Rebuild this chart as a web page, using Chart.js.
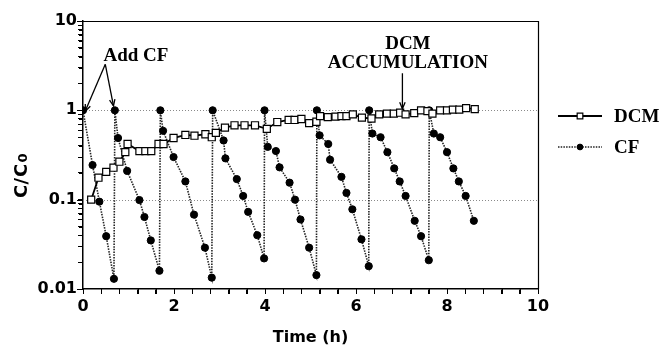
<!DOCTYPE html>
<html><head><meta charset="utf-8">
<script src="https://cdn.jsdelivr.net/npm/chart.js@4.4.0/dist/chart.umd.min.js"></script>
<style>html,body{margin:0;padding:0;background:#fff;}#wrap{width:661px;height:347px;}</style>
</head><body><div id="wrap"><canvas id="c" width="661" height="347"></canvas></div>
<script>
// ---- data ----
const dcmTime  = [0.18,0.34,0.51,0.67,0.80,0.93,0.98,1.24,1.37,1.50,1.66,1.77,1.99,2.25,2.45,2.69,2.83,2.92,3.12,3.33,3.55,3.78,4.04,4.27,4.52,4.65,4.80,4.97,5.13,5.21,5.38,5.55,5.68,5.79,5.93,6.13,6.34,6.51,6.68,6.83,6.97,7.09,7.28,7.43,7.57,7.68,7.85,8.00,8.13,8.27,8.42,8.61];
const dcmValue = [0.10,0.176,0.205,0.228,0.266,0.34,0.42,0.35,0.35,0.35,0.42,0.42,0.49,0.53,0.52,0.54,0.50,0.56,0.64,0.68,0.68,0.68,0.62,0.74,0.78,0.78,0.80,0.72,0.745,0.86,0.84,0.85,0.86,0.86,0.90,0.83,0.81,0.90,0.92,0.92,0.94,0.90,0.93,1.0,0.98,0.92,1.0,1.0,1.02,1.02,1.06,1.03];
const cfTime  = [0,0.21,0.36,0.51,0.68, 0.70,0.77,0.97,1.24,1.35,1.49,1.68, 1.70,1.76,1.99,2.25,2.44,2.68,2.83, 2.85,3.09,3.13,3.38,3.52,3.63,3.83,3.98, 3.99,4.06,4.24,4.32,4.54,4.66,4.78,4.97,5.13, 5.14,5.20,5.39,5.43,5.68,5.79,5.92,6.12,6.28, 6.29,6.36,6.54,6.69,6.84,6.96,7.09,7.29,7.43,7.60, 7.61,7.71,7.85,8.00,8.14,8.26,8.41,8.59];
const cfValue = [1,0.244,0.095,0.039,0.013, 1,0.49,0.21,0.099,0.064,0.035,0.016, 1,0.59,0.30,0.16,0.068,0.029,0.0134, 1,0.46,0.29,0.17,0.11,0.073,0.040,0.022, 1,0.39,0.35,0.23,0.155,0.10,0.06,0.029,0.0143, 1,0.525,0.42,0.28,0.18,0.119,0.078,0.036,0.018, 1,0.55,0.50,0.34,0.224,0.16,0.11,0.058,0.039,0.021, 1,0.55,0.50,0.34,0.224,0.16,0.11,0.058];
const xTickValues = [0,2,4,6,8,10];
const xTickLabels = ['0','2','4','6','8','10'];
const yTickValues = [0.01,0.1,1,10];
const yTickLabels = ['0.01','0.1','1','10'];
const gridValues = [0.1,1];
const seriesNames = ['DCM','CF'];

const AX_FONT = 'DejaVu Sans';
const SERIF = 'Liberation Serif';

function near(a,b){return Math.abs(a-b) < 1e-6*Math.max(1,Math.abs(b));}

const overlay = {
  id:'overlay',
  beforeDatasetsDraw(chart){
    const ctx=chart.ctx, a=chart.chartArea, y=chart.scales.y;
    ctx.save();
    ctx.strokeStyle='#8a8a8a'; ctx.lineWidth=1; ctx.setLineDash([1,2]);
    gridValues.forEach(v=>{const py=Math.round(y.getPixelForValue(v))+0.5;ctx.beginPath();ctx.moveTo(a.left,py);ctx.lineTo(a.right,py);ctx.stroke();});
    ctx.restore();
  },
  afterDraw(chart){
    const ctx=chart.ctx, a=chart.chartArea, xs=chart.scales.x, ys=chart.scales.y;
    ctx.save();
    ctx.setLineDash([]);
    // tick marks
    ctx.strokeStyle='#000'; ctx.lineWidth=1;
    xs.ticks.forEach(t=>{const x=Math.round(xs.getPixelForValue(t.value))+0.5;ctx.beginPath();ctx.moveTo(x,a.bottom);ctx.lineTo(x,a.bottom+5);ctx.stroke();});
    ys.ticks.forEach(t=>{const y=Math.round(ys.getPixelForValue(t.value))+0.5;const major=yTickValues.some(v=>near(v,t.value));ctx.beginPath();ctx.moveTo(a.left,y);ctx.lineTo(a.left-(major?6:4),y);ctx.stroke();});
    // frame top & right
    ctx.strokeStyle='#000'; ctx.lineWidth=1.2;
    ctx.beginPath(); ctx.moveTo(a.left,a.top+0.5); ctx.lineTo(a.right+0.5,a.top+0.5); ctx.lineTo(a.right+0.5,a.bottom); ctx.stroke();
    // y title C/C0
    ctx.save();
    ctx.translate(27,198); ctx.rotate(-Math.PI/2);
    ctx.fillStyle='#000'; ctx.textBaseline='alphabetic'; ctx.textAlign='left';
    ctx.font='bold 18px "'+AX_FONT+'"';
    ctx.fillText('C',0,0); ctx.fillText('/',13.5,0); ctx.fillText('C',21,0);
    ctx.font='bold 13px "'+AX_FONT+'"';
    ctx.fillText('0',35.5,0);
    ctx.restore();
    // annotations
    const px=(t)=>xs.getPixelForValue(t), py=(v)=>ys.getPixelForValue(v);
    function arrow(x1,y1,x2,y2){
      ctx.beginPath(); ctx.moveTo(x1,y1); ctx.lineTo(x2,y2); ctx.stroke();
      const ang=Math.atan2(y2-y1,x2-x1), L=7, w=0.4;
      ctx.beginPath();
      ctx.moveTo(x2-L*Math.cos(ang-w),y2-L*Math.sin(ang-w)); ctx.lineTo(x2,y2);
      ctx.lineTo(x2-L*Math.cos(ang+w),y2-L*Math.sin(ang+w)); ctx.stroke();
    }
    ctx.strokeStyle='#000'; ctx.lineWidth=1.3; ctx.fillStyle='#000';
    ctx.font='bold 19px "'+SERIF+'"'; ctx.textAlign='left'; ctx.textBaseline='alphabetic';
    ctx.fillText('Add CF', px(0.45), py(3.57));
    arrow(px(0.49),py(3.27),px(0.05),py(0.98));
    arrow(px(0.49),py(3.27),px(0.67),py(1.12));
    ctx.textAlign='center';
    ctx.fillText('DCM', px(7.14), py(4.86));
    ctx.fillText('ACCUMULATION', px(7.14), py(3.0));
    arrow(px(7.02),py(2.6),px(7.02),py(1.04));
    // legend
    const ds=chart.data.datasets;
    const items=[{y:116,d:ds[0]},{y:147,d:ds[1]}];
    items.forEach(it=>{
      ctx.save();
      ctx.strokeStyle=it.d.borderColor; ctx.lineWidth=it.d.borderWidth; ctx.setLineDash(it.d.borderDash||[]);
      ctx.beginPath(); ctx.moveTo(558,it.y); ctx.lineTo(602,it.y); ctx.stroke();
      ctx.setLineDash([]);
      ctx.fillStyle=it.d.pointBackgroundColor; ctx.strokeStyle=it.d.pointBorderColor;
      ctx.lineWidth=it.d.pointBorderWidth;
      Chart.helpers.drawPoint(ctx,{pointStyle:it.d.pointStyle,radius:it.d.pointRadius*0.8,borderWidth:it.d.pointBorderWidth},580,it.y);
      ctx.restore();
      ctx.fillStyle='#000'; ctx.textAlign='left'; ctx.textBaseline='alphabetic';
      ctx.font='bold 19px "'+SERIF+'"';
      ctx.fillText(it.d.label,614,it.y+6);
    });
    ctx.restore();
  }
};

new Chart(document.getElementById('c'),{
  type:'line',
  data:{datasets:[
    {label:seriesNames[0], data:dcmTime.map((t,i)=>({x:t,y:dcmValue[i]})), borderColor:'#000', borderWidth:1.8,
     pointStyle:'rect', pointRadius:5, pointBackgroundColor:'#fff', pointBorderColor:'#000', pointBorderWidth:1.2, order:0, tension:0},
    {label:seriesNames[1], data:cfTime.map((t,i)=>({x:t,y:cfValue[i]})), borderColor:'#222', borderWidth:1.6, borderDash:[1.5,1.2],
     pointStyle:'circle', pointRadius:3.6, pointBackgroundColor:'#000', pointBorderColor:'#000', pointBorderWidth:1, order:1, tension:0}
  ]},
  options:{
    responsive:false, animation:false, devicePixelRatio:1,
    layout:{padding:{top:21,right:123,bottom:0,left:0}},
    plugins:{legend:{display:false},tooltip:{enabled:false}},
    scales:{
      x:{type:'linear', min:0, max:10,
        afterFit(s){s.height=58;},
        ticks:{stepSize:0.4, autoSkip:false, maxRotation:0, color:'#000', padding:3,
          font:{family:AX_FONT,weight:'bold',size:16},
          callback(v){const i=xTickValues.findIndex(t=>near(t,v));return i>=0?xTickLabels[i]:'';}},
        grid:{drawOnChartArea:false, drawTicks:true, tickLength:5, color:'#000', lineWidth:1},
        border:{display:true,color:'#000',width:1.5},
        title:{display:true,text:'Time (h)',color:'#000',font:{family:AX_FONT,weight:'bold',size:16},padding:{top:6,bottom:0}}
      },
      y:{type:'logarithmic', min:0.01, max:10,
        afterFit(s){s.width=83;},
        afterBuildTicks(s){const arr=[];for(let e=-2;e<=0;e++){for(let k=1;k<=9;k++){arr.push({value:+(k*Math.pow(10,e)).toPrecision(3)});}}arr.push({value:10});s.ticks=arr;},
        ticks:{autoSkip:false, color:'#000', padding:1, font:{family:AX_FONT,weight:'bold',size:16},
          callback(v){const i=yTickValues.findIndex(t=>near(t,v));return i>=0?yTickLabels[i]:'';}},
        grid:{drawOnChartArea:false, drawTicks:true, tickLength:5, color:'#000', lineWidth:1},
        border:{display:true,color:'#000',width:1.5}
      }
    }
  },
  plugins:[overlay]
});
</script></body></html>
